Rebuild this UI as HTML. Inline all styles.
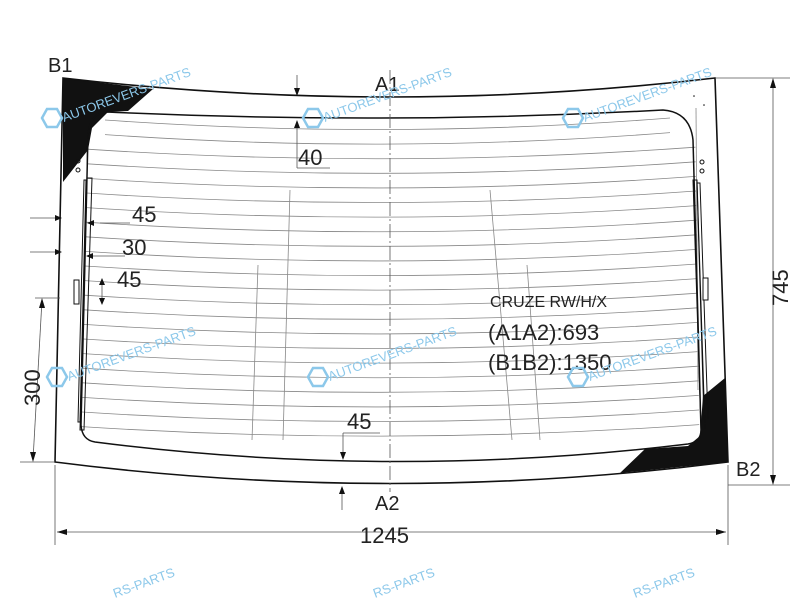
<!DOCTYPE html>
<html><head><meta charset="utf-8"><style>
html,body{margin:0;padding:0;background:#fff;width:800px;height:600px;overflow:hidden}
svg{display:block}
text{font-family:"Liberation Sans",sans-serif;fill:#222}
.wm text{fill:#8cc8ea;font-size:13px}
</style></head><body>
<svg id="s" width="800" height="600" viewBox="0 0 800 600" xmlns="http://www.w3.org/2000/svg">
<g id="heat" stroke="#888" stroke-width="0.8" fill="none"></g>
<g stroke="#888" stroke-width="0.8">
<line x1="290" y1="190" x2="283" y2="440"/>
<line x1="258" y1="265" x2="252" y2="440"/>
<line x1="490" y1="190" x2="512" y2="440"/>
<line x1="527" y1="265" x2="540" y2="440"/>
<line x1="87" y1="110" x2="87" y2="175"/>
<line x1="696" y1="108" x2="698" y2="390"/>
</g>
<polygon points="63,78 153,89 128,111 108,112 92,128 88,150 63,182" fill="#111"/>
<polygon points="725,378 728,462 620,473 645,449 688,446 700,436 703,396" fill="#111"/>
<path d="M63,78 Q390,116 715,78 L728,462 Q390,505 55,462 Z" fill="none" stroke="#111" stroke-width="1.6"/>
<path d="M107,112 Q390,125 663,110 Q690,112 693,140 L701,430 Q701,442 688,444 Q390,480 95,442 Q82,440 81,425 L88,135 Q90,113 107,112 Z" fill="none" stroke="#111" stroke-width="1.5"/>
<path d="M84,180 L86,180 L80,422 L78,422 Z" fill="none" stroke="#111" stroke-width="1"/>
<path d="M87,178 L92,178 L84,430 L80,430 Z" fill="none" stroke="#111" stroke-width="1"/>
<rect x="74" y="280" width="5" height="24" fill="#fff" stroke="#111"/>
<path d="M697,183 L700,183 L708,420 L704,420 Z" fill="none" stroke="#111" stroke-width="1"/>
<path d="M693,180 L697,180 L705,430 L701,430 Z" fill="none" stroke="#111" stroke-width="1"/>
<rect x="703" y="278" width="5" height="22" fill="#fff" stroke="#111"/>
<circle cx="78" cy="161" r="2" fill="none" stroke="#111"/><circle cx="78" cy="170" r="2" fill="none" stroke="#111"/>
<circle cx="702" cy="162" r="2" fill="none" stroke="#111"/><circle cx="702" cy="171" r="2" fill="none" stroke="#111"/>
<circle cx="694" cy="96" r="0.8" fill="#111"/><circle cx="704" cy="105" r="0.8" fill="#111"/>
<line x1="390" y1="70" x2="390" y2="492" stroke="#555" stroke-width="0.8" stroke-dasharray="14,3,2,3"/>
<g stroke="#555" stroke-width="0.8" fill="none">
<line x1="715" y1="78" x2="790" y2="78"/>
<line x1="728" y1="485" x2="790" y2="485"/>
<line x1="773" y1="80" x2="773" y2="483"/>
<line x1="55" y1="465" x2="55" y2="545"/>
<line x1="728" y1="465" x2="728" y2="545"/>
<line x1="57" y1="532" x2="726" y2="532"/>
<line x1="42" y1="300" x2="33" y2="460"/>
<line x1="20" y1="462" x2="55" y2="462"/>
<line x1="35" y1="298" x2="60" y2="298"/>
<line x1="297" y1="75" x2="297" y2="94"/>
<line x1="297" y1="122" x2="297" y2="168"/>
<line x1="297" y1="168" x2="330" y2="168"/>
<line x1="343" y1="433" x2="343" y2="458"/>
<line x1="343" y1="433" x2="380" y2="433"/>
<line x1="342" y1="488" x2="342" y2="510"/>
<line x1="30" y1="218" x2="60" y2="218"/>
<line x1="30" y1="252" x2="60" y2="252"/>
<line x1="102" y1="280" x2="102" y2="303"/>
<line x1="100" y1="223" x2="130" y2="223"/>
<line x1="88" y1="256" x2="125" y2="256"/>
</g>
<g fill="#111">
<polygon points="773,78 770,88 776,88"/>
<polygon points="773,485 770,475 776,475"/>
<polygon points="57,532 67,529 67,535"/>
<polygon points="726,532 716,529 716,535"/>
<polygon points="42,298 39,308 45,308"/>
<polygon points="33,462 30,452 36,452"/>
<polygon points="297,96 294,88 300,88"/>
<polygon points="297,120 294,128 300,128"/>
<polygon points="343,460 340,452 346,452"/>
<polygon points="342,486 339,494 345,494"/>
<polygon points="62,218 55,215 55,221"/>
<polygon points="87,223 94,220 94,226"/>
<polygon points="62,252 55,249 55,255"/>
<polygon points="86,256 93,253 93,259"/>
<polygon points="102,278 99,285 105,285"/>
<polygon points="102,305 99,298 105,298"/>
</g>
<text x="48" y="72" font-size="20">B1</text>
<text x="375" y="91" font-size="20">A1</text>
<text x="298" y="165" font-size="22">40</text>
<text x="132" y="222" font-size="22">45</text>
<text x="122" y="255" font-size="22">30</text>
<text x="117" y="287" font-size="22">45</text>
<text x="490" y="307" font-size="16">CRUZE RW/H/X</text>
<text x="488" y="340" font-size="22">(A1A2):693</text>
<text x="488" y="370" font-size="22">(B1B2):1350</text>
<text x="347" y="429" font-size="22">45</text>
<text x="375" y="510" font-size="20">A2</text>
<text x="360" y="543" font-size="22">1245</text>
<text x="736" y="476" font-size="20">B2</text>
<text font-size="22" transform="translate(788,306) rotate(-90)">745</text>
<text font-size="22" transform="translate(40,406) rotate(-90)">300</text>
<g class="wm">
<g transform="translate(52,118)"><polygon points="-10,0 -5,-9 5,-9 10,0 5,9 -5,9" fill="none" stroke="#8cc8ea" stroke-width="2.5"/><text x="12" y="4" transform="rotate(-20 12 4)">AUTOREVERS-PARTS</text></g>
<g transform="translate(313,118)"><polygon points="-10,0 -5,-9 5,-9 10,0 5,9 -5,9" fill="none" stroke="#8cc8ea" stroke-width="2.5"/><text x="12" y="4" transform="rotate(-20 12 4)">AUTOREVERS-PARTS</text></g>
<g transform="translate(573,118)"><polygon points="-10,0 -5,-9 5,-9 10,0 5,9 -5,9" fill="none" stroke="#8cc8ea" stroke-width="2.5"/><text x="12" y="4" transform="rotate(-20 12 4)">AUTOREVERS-PARTS</text></g>
<g transform="translate(57,377)"><polygon points="-10,0 -5,-9 5,-9 10,0 5,9 -5,9" fill="none" stroke="#8cc8ea" stroke-width="2.5"/><text x="12" y="4" transform="rotate(-20 12 4)">AUTOREVERS-PARTS</text></g>
<g transform="translate(318,377)"><polygon points="-10,0 -5,-9 5,-9 10,0 5,9 -5,9" fill="none" stroke="#8cc8ea" stroke-width="2.5"/><text x="12" y="4" transform="rotate(-20 12 4)">AUTOREVERS-PARTS</text></g>
<g transform="translate(578,377)"><polygon points="-10,0 -5,-9 5,-9 10,0 5,9 -5,9" fill="none" stroke="#8cc8ea" stroke-width="2.5"/><text x="12" y="4" transform="rotate(-20 12 4)">AUTOREVERS-PARTS</text></g>
<text x="115" y="598" transform="rotate(-20 115 598)">RS-PARTS</text>
<text x="375" y="598" transform="rotate(-20 375 598)">RS-PARTS</text>
<text x="635" y="598" transform="rotate(-20 635 598)">RS-PARTS</text>
</g>
</svg>
<script>
var g=document.getElementById('heat'),h='';
for(var i=0;i<22;i++){var y=122+i*14.6;var xl=(i<2?105:88-i*0.3),xr=(i<2?670:695+i*0.2);
h+='<path d="M'+xl+','+(y-2)+' Q390,'+(y+18)+' '+xr+','+(y-4)+'"/>';}
g.innerHTML=h;
</script>
</body></html>
